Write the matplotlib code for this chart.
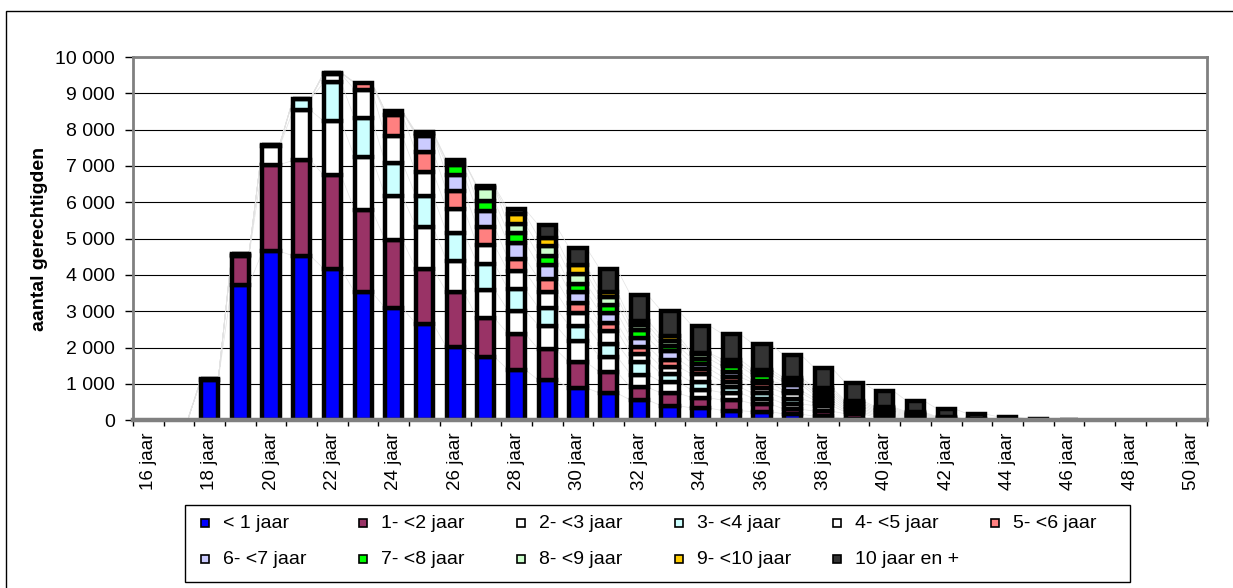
import matplotlib

matplotlib.use("Agg")
import matplotlib.pyplot as plt
import numpy as np
from matplotlib.collections import LineCollection
from matplotlib.patches import Rectangle

plt.rcParams["font.family"] = ["Liberation Sans", "DejaVu Sans"]

# categories: leeftijd 16 .. 50 jaar
ages = [16, 17, 18, 19, 20, 21, 22, 23, 24, 25, 26, 27, 28, 29, 30, 31, 32,
        33, 34, 35, 36, 37, 38, 39, 40, 41, 42, 43, 44, 45, 46, 47, 48, 49, 50]

# aantal gerechtigden per duur
lt_1 = [0, 0, 1110, 3730, 4652, 4527, 4170, 3531, 3091, 2659, 2009, 1742, 1393, 1101, 894, 743, 556,
        400, 337, 265, 237, 173, 105, 30, 20, 10, 0, 0, 0, 0, 0, 0, 0, 0, 0]
y1_2 = [0, 0, 25, 784, 2383, 2630, 2573, 2266, 1872, 1511, 1522, 1066, 988, 848, 697, 578, 348,
        348, 285, 283, 212, 130, 145, 150, 60, 30, 10, 0, 0, 0, 0, 0, 0, 0, 0]
y2_3 = [0, 0, 10, 40, 507, 1376, 1490, 1450, 1211, 1151, 862, 792, 641, 660, 583, 427, 356,
        302, 208, 210, 151, 146, 152, 45, 40, 25, 10, 0, 0, 0, 0, 0, 0, 0, 0]
y3_4 = [0, 0, 0, 20, 30, 300, 1070, 1066, 914, 853, 776, 711, 587, 482, 427, 358, 348,
        219, 211, 155, 138, 146, 70, 45, 35, 25, 10, 0, 0, 0, 0, 0, 0, 0, 0]
y4_5 = [0, 0, 0, 12, 14, 20, 229, 792, 732, 647, 655, 506, 492, 449, 352, 357, 219,
        201, 228, 146, 151, 156, 70, 45, 35, 25, 10, 0, 0, 0, 0, 0, 0, 0, 0]
y5_6 = [0, 0, 0, 0, 0, 0, 20, 188, 575, 564, 493, 504, 347, 355, 289, 207, 200,
        201, 147, 137, 143, 64, 70, 44, 35, 25, 10, 0, 0, 0, 0, 0, 0, 0, 0]
y6_7 = [0, 0, 0, 0, 0, 0, 16, 0, 110, 449, 444, 432, 438, 366, 298, 289, 228,
        229, 137, 137, 55, 165, 70, 44, 35, 22, 10, 0, 0, 0, 0, 0, 0, 0, 0]
y7_8 = [0, 0, 0, 0, 0, 0, 0, 0, 0, 40, 266, 278, 283, 270, 206, 223, 230,
        136, 137, 155, 160, 64, 70, 44, 35, 22, 10, 0, 0, 0, 0, 0, 0, 0, 0]
y8_9 = [0, 0, 0, 0, 0, 0, 0, 0, 0, 20, 110, 363, 226, 275, 289, 204, 136,
        147, 145, 74, 69, 60, 70, 44, 35, 22, 11, 10, 0, 0, 0, 0, 0, 0, 0]
y9_10 = [0, 0, 0, 0, 0, 0, 0, 0, 0, 10, 10, 20, 278, 220, 226, 154, 119,
         127, 20, 109, 77, 60, 70, 44, 36, 22, 10, 13, 11, 0, 0, 0, 0, 0, 0]
y10_plus = [0, 0, 0, 0, 0, 0, 0, 0, 0, 32, 10, 27, 135, 341, 482, 616, 703,
            704, 748, 704, 700, 625, 543, 496, 440, 303, 220, 150, 80, 30, 10, 0, 0, 0, 0]

series = [lt_1, y1_2, y2_3, y3_4, y4_5, y5_6, y6_7, y7_8, y8_9, y9_10, y10_plus]
series_names = ["< 1 jaar", "1- <2 jaar", "2- <3 jaar", "3- <4 jaar", "4- <5 jaar", "5- <6 jaar",
                "6- <7 jaar", "7- <8 jaar", "8- <9 jaar", "9- <10 jaar", "10 jaar en +"]
series_colors = ["#0000FF", "#993366", "#FFFFFF", "#CCFFFF", "#FFFFFF", "#FF8080",
                 "#CCCCFF", "#00FF00", "#CCFFCC", "#FFCC00", "#333333"]

W, H = 1233, 588
BAR_WIDTH = 0.56


def fig_xy(px, py):
    return px / W, 1 - py / H


def draw_bars(ax):
    x = np.arange(len(ages))
    bottom = np.zeros(len(ages))
    levels = []
    for values, color in zip(series, series_colors):
        values = np.asarray(values, dtype=float)
        mask = values > 0
        ax.bar(x[mask], values[mask], width=BAR_WIDTH, bottom=bottom[mask], color=color,
               edgecolor="black", linewidth=3.2, zorder=3)
        bottom = bottom + values
        levels.append(bottom.copy())

    # excel style series lines between neighbouring bars
    segments = []
    for level in levels:
        for i in range(len(ages) - 1):
            segments.append([(x[i] + BAR_WIDTH / 2, level[i]), (x[i + 1] - BAR_WIDTH / 2, level[i + 1])])
    ax.add_collection(LineCollection(segments, colors="#e2e2e2", linewidths=0.5, zorder=2))


def style_axes(ax):
    ax.set_xlim(-0.5, len(ages) - 0.5)
    ax.set_ylim(0, 10000)

    yticks = np.arange(0, 10001, 1000)
    ax.set_yticks(yticks)
    ax.set_yticklabels([f"{v:,.0f}".replace(",", " ") for v in yticks], fontsize=14)
    ax.yaxis.grid(True, color="black", linewidth=0.8)
    ax.set_axisbelow(True)
    ax.tick_params(axis="y", length=6, width=1, color="black", pad=7)

    label_pos = [i for i, age in enumerate(ages) if age % 2 == 0]
    ax.set_xticks(label_pos)
    ax.set_xticklabels([f"{ages[i]} jaar" for i in label_pos], rotation=90, fontsize=13.5)
    ax.set_xticks(np.arange(-0.5, len(ages), 1.0), minor=True)
    ax.tick_params(axis="x", which="major", length=0, pad=9)
    ax.tick_params(axis="x", which="minor", length=4, width=1, color="black", direction="out")

    for spine in ax.spines.values():
        spine.set_color("#808080")
        spine.set_linewidth(2.0)
        spine.set_zorder(4)
    ax.spines["bottom"].set_linewidth(3.2)

    ax.set_ylabel("aantal gerechtigden", fontsize=14, fontweight="bold")
    ax.yaxis.set_label_coords((48 - 133) / (1207 - 133), 0.5)


def draw_legend(fig):
    x0, y0 = fig_xy(185, 582)
    x1, y1 = fig_xy(1130, 505)
    fig.add_artist(Rectangle((x0, y0), x1 - x0, y1 - y0, transform=fig.transFigure,
                             facecolor="white", edgecolor="black", linewidth=1.0))
    size = 8
    for k, (name, color) in enumerate(zip(series_names, series_colors)):
        row, col = divmod(k, 6)
        cx = 205 + 158 * col
        cy = 523 + 36 * row
        mx, my = fig_xy(cx - size / 2, cy + size / 2)
        fig.add_artist(Rectangle((mx, my), size / W, size / H, transform=fig.transFigure,
                                 facecolor=color, edgecolor="black", linewidth=1.2))
        tx, ty = fig_xy(cx + 18, cy)
        fig.text(tx, ty, name, fontsize=14, ha="left", va="center")


def main() -> None:
    fig = plt.figure(figsize=(W / 100, H / 100), dpi=100)
    fx, fy = fig_xy(6, 600)
    fig.add_artist(Rectangle((fx, fy), 1.2, 1 - 11 / H - fy, transform=fig.transFigure,
                             facecolor="none", edgecolor="black", linewidth=1.0))

    left, bottom = fig_xy(133, 420.3)
    right, top = fig_xy(1207, 57)
    ax = fig.add_axes([left, bottom, right - left, top - bottom])

    draw_bars(ax)
    style_axes(ax)
    draw_legend(fig)

    fig.savefig("out.png", dpi=100)
    plt.close(fig)


if __name__ == "__main__":
    main()
